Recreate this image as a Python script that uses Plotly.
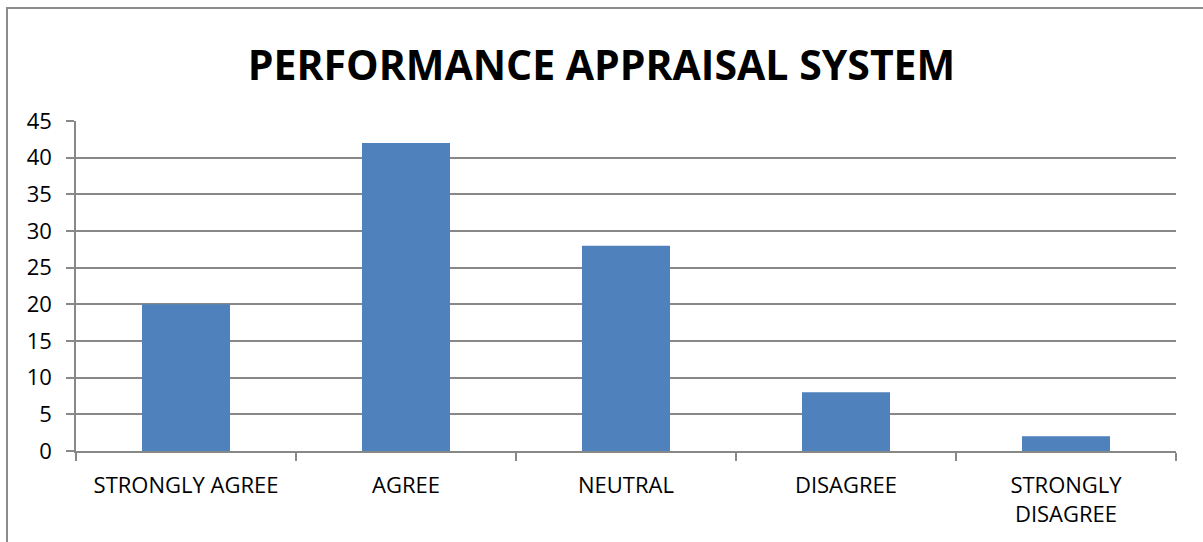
import plotly.graph_objects as go

categories = ["STRONGLY AGREE", "AGREE", "NEUTRAL", "DISAGREE", "STRONGLY<br>DISAGREE"]
values = [20, 42, 28, 8, 2]
y_ticks = [0, 5, 10, 15, 20, 25, 30, 35, 40, 45]
title_text = "PERFORMANCE APPRAISAL SYSTEM"

grid = "#888888"
font_family = "Open Sans, Noto Sans, sans-serif"

fig = go.Figure(go.Bar(x=categories, y=values, marker=dict(color="#4F81BD", line=dict(width=0)), width=0.4))

L, R, T, B = 76, 27, 121, 91
W, H = 1203, 542
pw, ph = W - L - R, H - T - B

fig.update_layout(
    width=W, height=H,
    margin=dict(l=L, r=R, t=T, b=B),
    paper_bgcolor="white", plot_bgcolor="white",
    showlegend=False,
    title=dict(text="<b>" + title_text + "</b>", x=0.5, xanchor="center", y=1 - 66 / H, yanchor="middle",
               font=dict(family=font_family, size=41, color="black")),
    font=dict(family=font_family, size=22, color="black"),
)
fig.update_xaxes(showgrid=False, showline=True, linecolor=grid, linewidth=1.5,
                 ticks="outside", tickson="boundaries", ticklen=8, tickcolor=grid, tickwidth=1.5,
                 tickfont=dict(size=22, family=font_family), ticklabelstandoff=14, fixedrange=True)
fig.update_yaxes(range=[0, 45], tickvals=y_ticks, showgrid=True, gridcolor=grid, gridwidth=1.5,
                 showline=True, linecolor=grid, linewidth=1.5, zeroline=False,
                 ticks="outside", ticklen=8, tickcolor=grid, tickwidth=1.5,
                 tickfont=dict(size=22, family=font_family), ticklabelstandoff=10, fixedrange=True)

# outer chart border
fig.add_shape(type="rect", xref="paper", yref="paper",
              x0=(7 - L) / pw, x1=(W + 10 - L) / pw,
              y0=-(B + 20) / ph, y1=(H - B - 8) / ph,
              line=dict(color="#8c8c8c", width=2), fillcolor="rgba(0,0,0,0)", layer="above")

fig.write_html("out.html", config={"displayModeBar": False},
               post_script="document.body.style.margin='0';document.body.style.overflow='hidden';")
